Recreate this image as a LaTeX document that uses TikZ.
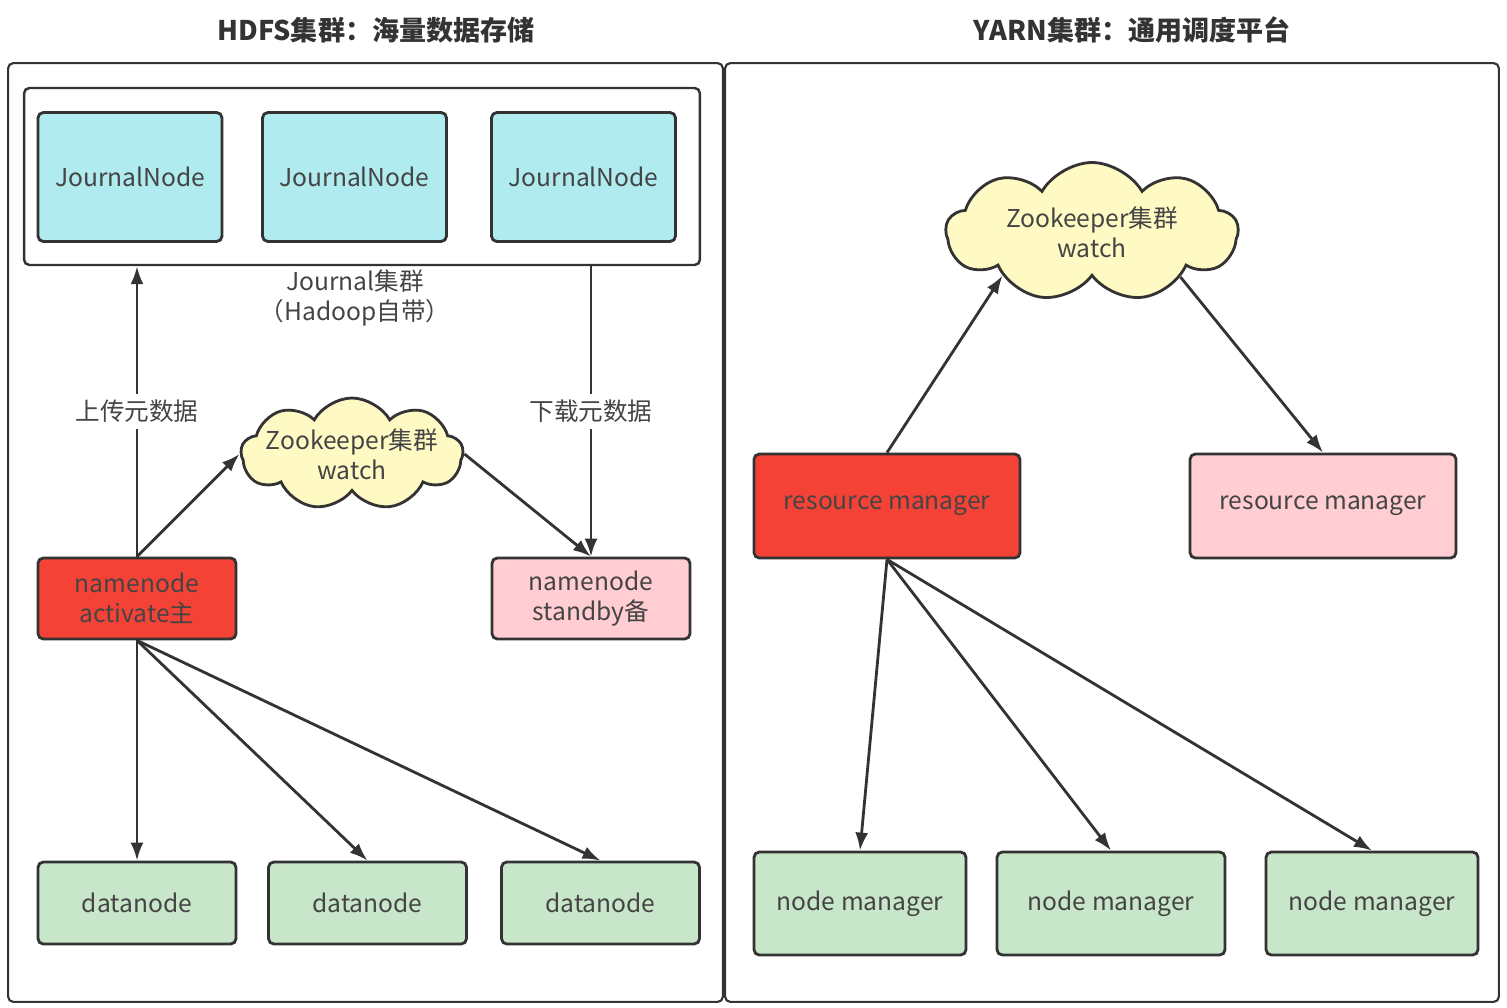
\documentclass[tikz,border=0pt]{standalone}
\usepackage{fontspec}
\setmainfont{Noto Sans CJK SC}
\usetikzlibrary{shapes.symbols, arrows.meta}
\definecolor{jnblue}{HTML}{B0EBF0}
\definecolor{actred}{HTML}{F44336}
\definecolor{sbpink}{HTML}{FFCDD2}
\definecolor{dngreen}{HTML}{C8E6C9}
\definecolor{zkyellow}{HTML}{FFF9C4}
\definecolor{txtgray}{HTML}{444444}
\definecolor{linegray}{HTML}{333333}
\begin{document}
\begin{tikzpicture}[x=0.02cm, y=-0.02cm,
		box/.style={draw=linegray, line width=1.6pt, rounded corners=3pt, text=txtgray, align=center, font=\fontsize{14}{17}\selectfont},
		zk/.style={cloud, draw=linegray, line width=1.6pt, fill=zkyellow, cloud puffs=9, cloud puff arc=120, inner sep=0pt},
		zktext/.style={label={[text=txtgray, align=center, font=\fontsize{14}{17}\selectfont]center:Zookeeper集群\\watch}},
		arr/.style={-{Latex[length=3.6mm, width=2.6mm]}, draw=linegray, line width=1.6pt},
		title/.style={text=linegray, font=\fontsize{15.4}{18}\selectfont\bfseries}]
		\useasboundingbox (0,0) rectangle (1507,1007);
		% titles and panels
		\node[title] (thdfs) at (376,30) {HDFS集群：海量数据存储};
		\node[title] (tyarn) at (1132,30) {YARN集群：通用调度平台};
		\node[draw=linegray, line width=1.2pt, rounded corners=3pt, minimum width=14.3cm, minimum height=18.78cm] (hdfs) at (365.5,532.5) {};
		\node[draw=linegray, line width=1.2pt, rounded corners=3pt, minimum width=15.48cm, minimum height=18.78cm] (yarn) at (1112,532.5) {};
		% HDFS
		\node[box, line width=1.4pt, minimum width=13.52cm, minimum height=3.54cm] (jcluster) at (362,176.5) {};
		\node[box, fill=jnblue, minimum width=3.68cm, minimum height=2.58cm] (jn1) at (130,177) {JournalNode};
		\node[box, fill=jnblue, minimum width=3.68cm, minimum height=2.58cm] (jn2) at (354.5,177) {JournalNode};
		\node[box, fill=jnblue, minimum width=3.68cm, minimum height=2.58cm] (jn3) at (583.5,177) {JournalNode};
		\node[text=txtgray, align=center, font=\fontsize{14}{17}\selectfont] (jlabel) at (355,298) {Journal集群\\（Hadoop自带）};
		\node[box, fill=actred, minimum width=3.96cm, minimum height=1.62cm] (nnact) at (137,598.5) {namenode\\activate主};
		\node[box, fill=sbpink, minimum width=3.96cm, minimum height=1.62cm] (nnsb) at (591,598.5) {namenode\\standby备};
		\node[zk, zktext, minimum width=4.44cm, minimum height=2.24cm] (zk1) at (352,454) {};
		\node[box, fill=dngreen, minimum width=3.96cm, minimum height=1.64cm] (dn1) at (137,903) {datanode};
		\node[box, fill=dngreen, minimum width=3.96cm, minimum height=1.64cm] (dn2) at (367.5,903) {datanode};
		\node[box, fill=dngreen, minimum width=3.96cm, minimum height=1.64cm] (dn3) at (600.5,903) {datanode};
		\draw[arr] (nnact.north) -- node[fill=white, text=txtgray, font=\fontsize{14}{17}\selectfont] {上传元数据} (nnact.north |- jcluster.south);
		\draw[arr] (nnsb.north |- jcluster.south) -- node[fill=white, text=txtgray, font=\fontsize{14}{17}\selectfont] {下载元数据} (nnsb.north);
		\draw[arr] (nnact.north) -- (zk1.west);
		\draw[arr] (zk1.east) -- (nnsb.north);
		\draw[arr] (nnact.south) -- (dn1.north);
		\draw[arr] (nnact.south) -- (dn2.north);
		\draw[arr] (nnact.south) -- (dn3.north);
		% YARN
		\node[zk, zktext, minimum width=5.84cm, minimum height=2.78cm] (zk2) at (1092,232) {};
		\node[box, fill=actred, minimum width=5.32cm, minimum height=2.08cm] (rm1) at (887,506) {resource manager};
		\node[box, fill=sbpink, minimum width=5.32cm, minimum height=2.08cm] (rm2) at (1323,506) {resource manager};
		\node[box, fill=dngreen, minimum width=4.24cm, minimum height=2.06cm] (nm1) at (860,903.5) {node manager};
		\node[box, fill=dngreen, minimum width=4.56cm, minimum height=2.06cm] (nm2) at (1111,903.5) {node manager};
		\node[box, fill=dngreen, minimum width=4.24cm, minimum height=2.06cm] (nm3) at (1372,903.5) {node manager};
		\draw[arr] (rm1.north) -- (zk2.206);
		\draw[arr] (zk2.333) -- (rm2.north);
		\draw[arr] (rm1.south) -- (nm1.north);
		\draw[arr] (rm1.south) -- (nm2.north);
		\draw[arr] (rm1.south) -- (nm3.north);
	\end{tikzpicture}
\end{document}
